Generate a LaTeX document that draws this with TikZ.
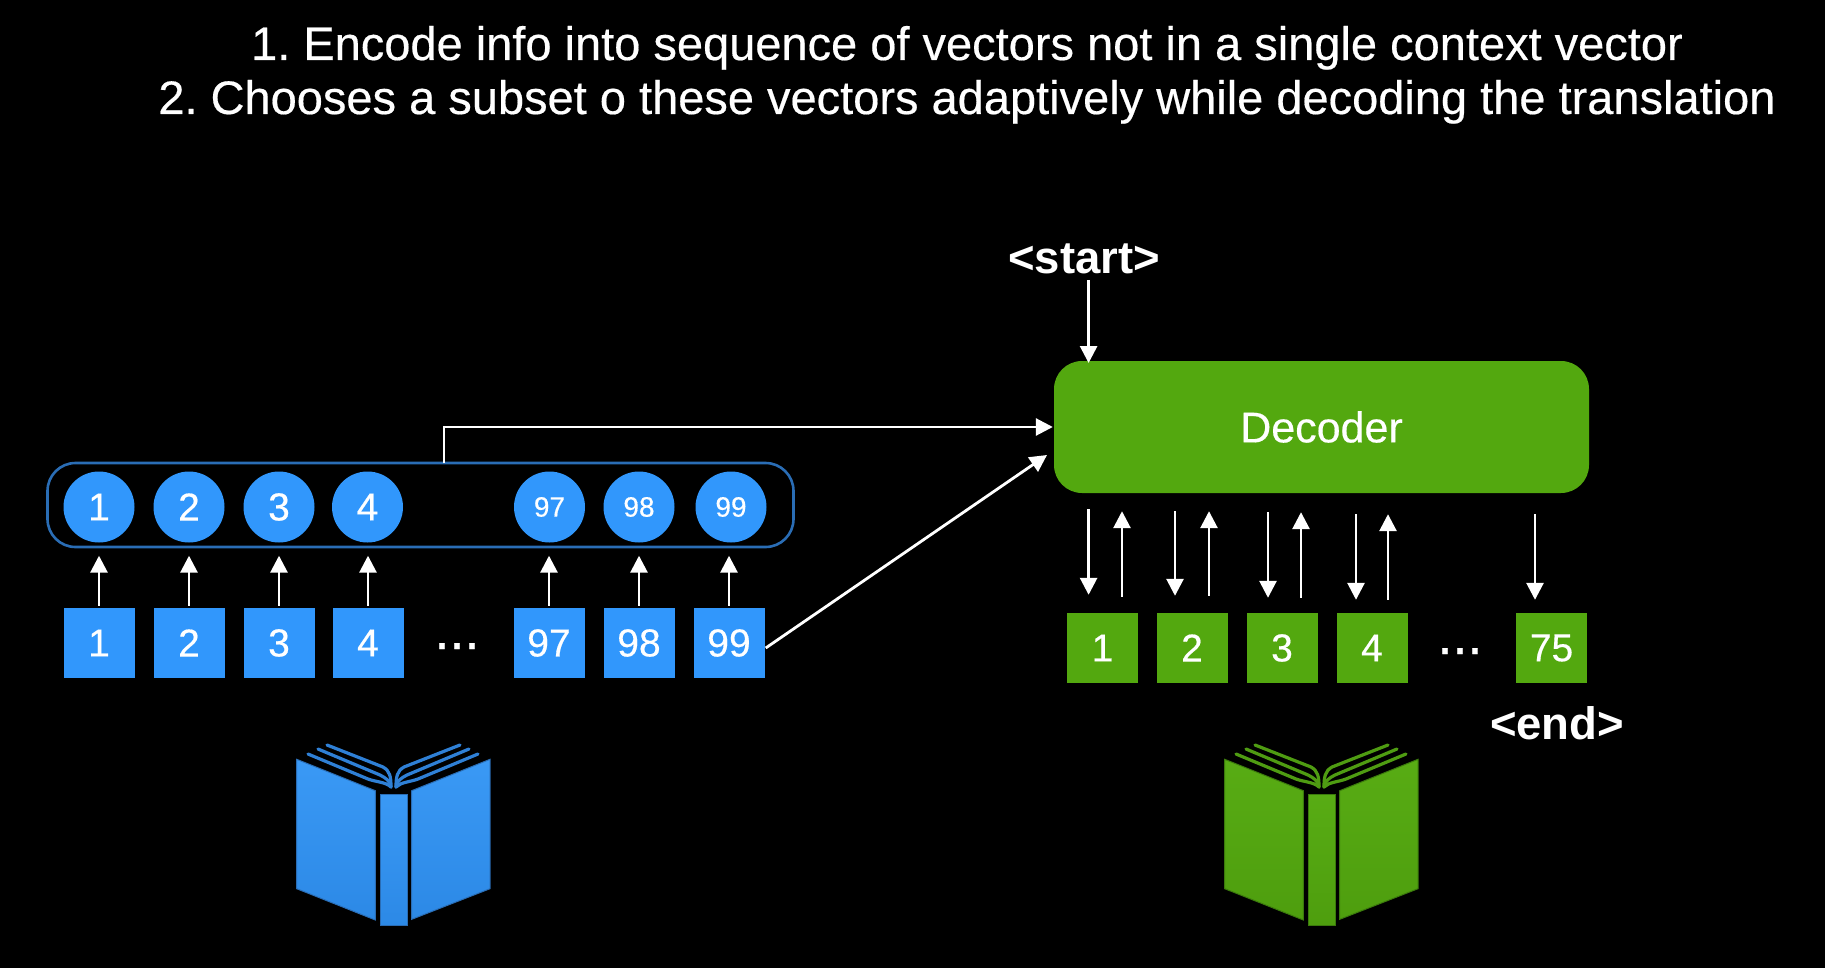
\documentclass[tikz,border=0pt]{standalone}
\usepackage{fontspec}
\setmainfont{Liberation Sans}
\newfontfamily\medfont[FakeBold=0.4]{Liberation Sans}
\usetikzlibrary{arrows.meta,calc}
\definecolor{bluefill}{HTML}{3197FC}
\definecolor{blueedge}{HTML}{2A6DB5}
\definecolor{bluepage}{HTML}{2F80D6}
\definecolor{greenfill}{HTML}{53A80F}
\definecolor{greenedge}{HTML}{3B7A0C}
\definecolor{greenpage}{HTML}{4F9C12}
\definecolor{bookbluetop}{HTML}{3A99F5}
\definecolor{bookbluebot}{HTML}{2C89E6}
\definecolor{bookgreentop}{HTML}{58AC14}
\definecolor{bookgreenbot}{HTML}{4E9E0E}
\newcommand{\fs}[1]{\fontsize{#1}{#1}\selectfont}
\tikzset{
  x=1pt,y=-1pt,
  bsq/.style={rectangle,fill=bluefill,minimum width=71pt,minimum height=70pt,inner sep=0pt,text=white,font=\fs{39}\medfont},
  gsq/.style={rectangle,fill=greenfill,minimum width=71pt,minimum height=70pt,inner sep=0pt,text=white,font=\fs{39}\medfont},
  bcirc/.style={circle,fill=bluefill,minimum size=71pt,inner sep=0pt,text=white,font=\fs{39}\medfont},
  bcircs/.style={bcirc,font=\fs{28}\medfont},
  arr/.style={draw=white,line width=2.8pt,-{Triangle[length=17pt,width=17pt]}},
  headline/.style={text=white,inner sep=0pt,anchor=base,font=\fs{47}\medfont},
  tag/.style={text=white,inner sep=0pt,anchor=base,font=\fs{45.5}\bfseries},
  dots/.style={text=white,inner sep=0pt,anchor=base,font=\fs{54}\medfont},
}
\newcommand{\drawbook}[5]{%
 \begin{scope}[shift={(#1,0)}]
  \fill[top color=#2,bottom color=#3,draw=#4,line width=1pt] (296.7,759.3)--(375.3,790.7)--(375.3,920)--(296.7,888.7)--cycle;
  \fill[top color=#2,bottom color=#3,draw=#4,line width=1pt] (380,794)--(407,794)--(407,925.3)--(380,925.3)--cycle;
  \fill[top color=#2,bottom color=#3,draw=#4,line width=1pt] (411.7,790.7)--(490,759.3)--(490,888.7)--(411.7,919.3)--cycle;
  \begin{scope}[draw=#5,line width=3.2pt,line cap=round]
   \draw (308,754) -- (368,779) .. controls (376,782) and (386,782) .. (391,787);
   \draw (318,749) -- (380,775) .. controls (386,778) and (390,781) .. (391,787);
   \draw (327,745) -- (383,767) .. controls (390,771) and (391,777) .. (391,787);
   \draw (478,754) -- (418,779) .. controls (410,782) and (401,782) .. (396,787);
   \draw (469,749) -- (407,775) .. controls (401,778) and (397,781) .. (396,787);
   \draw (460,745) -- (404,767) .. controls (397,771) and (396,777) .. (396,787);
  \end{scope}
 \end{scope}}
\begin{document}
\frenchspacing
\begin{tikzpicture}
\useasboundingbox (0,0) rectangle (1825,968);
\fill[black] (0,0) rectangle (1825,968);

% title
\node[headline] (t1) at (967,60) {1. Encode info into sequence of vectors not in a single context vector};
\node[headline] (t2) at (967,114) {2. Chooses a subset o these vectors adaptively while decoding the translation};

% encoder container
\node[rectangle,draw=blueedge,line width=2.6pt,rounded corners=28pt,minimum width=746pt,minimum height=84pt,inner sep=0pt] (cont) at (420.5,505) {};

% circles
\node[bcirc] (c1) at (99,507) {1};
\node[bcirc] (c2) at (189,507) {2};
\node[bcirc] (c3) at (279,507) {3};
\node[bcirc] (c4) at (367.5,507) {4};
\node[bcircs] (c97) at (549.5,507) {97};
\node[bcircs] (c98) at (639,507) {98};
\node[bcircs] (c99) at (731,507) {99};

% blue squares
\node[bsq] (s1) at (99,643) {1};
\node[bsq] (s2) at (189,643) {2};
\node[bsq] (s3) at (279,643) {3};
\node[bsq] (s4) at (368,643) {4};
\node[dots] (bd) at (457,649) {...};
\node[bsq] (s97) at (549,643) {97};
\node[bsq] (s98) at (639,643) {98};
\node[bsq] (s99) at (729,643) {99};

\foreach \n in {1,2,3,4,97,98,99}{
  \draw[arr,shorten <=2pt,shorten >=13pt] (s\n.north) -- (s\n.north |- c\n.south);
}

% decoder
\node[rectangle,fill=greenfill,rounded corners=28pt,minimum width=535pt,minimum height=132pt,inner sep=0pt,text=white,font=\fs{43}\medfont] (dec) at (1321.5,427) {Decoder};

% green squares
\node[gsq] (g1) at (1102.5,648) {1};
\node[gsq] (g2) at (1192,648) {2};
\node[gsq] (g3) at (1282,648) {3};
\node[gsq] (g4) at (1372,648) {4};
\node[dots] (gd) at (1460,654) {...};
\node[gsq] (g75) at (1551.5,648) {75};

% start / end
\node[tag] (start) at (1084,274) {<start>};
\node[tag] (end) at (1557,739) {<end>};

% connectors
\coordinate (bus) at (444,463);
\draw[arr,shorten >=1pt] (bus) |- (dec.west);
\coordinate (diagend) at (1047,455);
\draw[arr] ($(s99.east)+(1,5)$) -- (diagend);
\coordinate (startx) at (1088.6,363);
\draw[arr] (startx |- 0,280) -- (startx);

\coordinate (a1) at (1088.6,0); \coordinate (b1) at (1122,0);
\coordinate (a2) at (1175,0);   \coordinate (b2) at (1209,0);
\coordinate (a3) at (1268,0);   \coordinate (b3) at (1301,0);
\coordinate (a4) at (1356,0);   \coordinate (b4) at (1388,0);
\coordinate (a5) at (1535,0);
\draw[arr,shorten <=16pt,shorten >=18pt] (a1 |- dec.south) -- (a1 |- g1.north);
\draw[arr,shorten <=16pt,shorten >=18pt] (b1 |- g1.north) -- (b1 |- dec.south);
\draw[arr,shorten <=18pt,shorten >=17pt] (a2 |- dec.south) -- (a2 |- g2.north);
\draw[arr,shorten <=17pt,shorten >=18pt] (b2 |- g2.north) -- (b2 |- dec.south);
\draw[arr,shorten <=19pt,shorten >=15pt] (a3 |- dec.south) -- (a3 |- g3.north);
\draw[arr,shorten <=15pt,shorten >=19pt] (b3 |- g3.north) -- (b3 |- dec.south);
\draw[arr,shorten <=21pt,shorten >=13pt] (a4 |- dec.south) -- (a4 |- g4.north);
\draw[arr,shorten <=13pt,shorten >=21pt] (b4 |- g4.north) -- (b4 |- dec.south);
\draw[arr,shorten <=21pt,shorten >=13pt] (a5 |- dec.south) -- (a5 |- g75.north);

% books
\drawbook{0}{bookbluetop}{bookbluebot}{blueedge}{bluepage}
\drawbook{928}{bookgreentop}{bookgreenbot}{greenedge}{greenpage}
\end{tikzpicture}
\end{document}
